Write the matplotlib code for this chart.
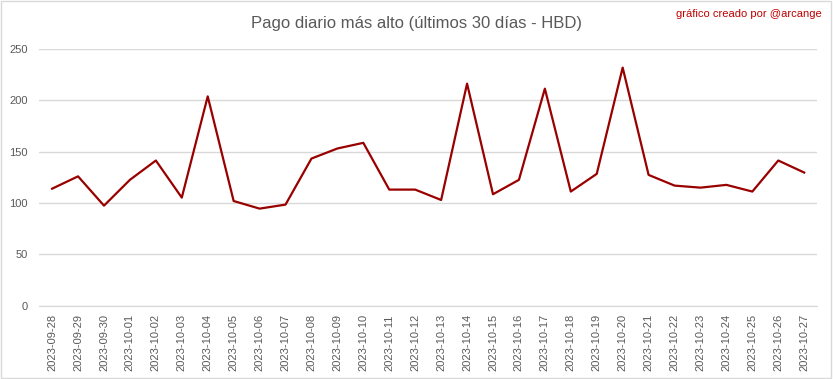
import matplotlib
matplotlib.use('Agg')
import matplotlib.pyplot as plt
from matplotlib.patches import Rectangle

# Data
dates = ['2023-09-28', '2023-09-29', '2023-09-30', '2023-10-01', '2023-10-02',
         '2023-10-03', '2023-10-04', '2023-10-05', '2023-10-06', '2023-10-07',
         '2023-10-08', '2023-10-09', '2023-10-10', '2023-10-11', '2023-10-12',
         '2023-10-13', '2023-10-14', '2023-10-15', '2023-10-16', '2023-10-17',
         '2023-10-18', '2023-10-19', '2023-10-20', '2023-10-21', '2023-10-22',
         '2023-10-23', '2023-10-24', '2023-10-25', '2023-10-26', '2023-10-27']
max_payout = [114, 126, 97.5, 122.6, 141.4, 105.3, 203.8, 102, 94.6, 98.5,
              143.3, 153.1, 158.6, 113.1, 113.1, 103, 216.2, 108.6, 122.6, 211.3,
              111.2, 128.4, 231.8, 127.4, 117, 115, 117.7, 111.2, 141.4, 129.7]
y_ticks = [0, 50, 100, 150, 200, 250]

plt.rcParams['font.family'] = ['Liberation Sans', 'DejaVu Sans']
gray = '#595959'
grid = '#D9D9D9'

fig = plt.figure(figsize=(8.33, 3.79), dpi=100)
ax = fig.add_axes([0.047, 0.193, 0.934, 0.678])

x = range(len(dates))
ax.plot(x, max_payout, color='#990000', linewidth=1.6)

ax.set_ylim(0, 250)
ax.set_xlim(-0.5, len(dates) - 0.5)
ax.set_yticks(y_ticks)
ax.set_xticks(list(x))
ax.set_xticklabels(dates, rotation=90)
ax.tick_params(axis='both', length=0, colors=gray, labelsize=8)
ax.tick_params(axis='x', pad=6)
ax.tick_params(axis='y', pad=8)
ax.grid(axis='y', color=grid, linewidth=1)
ax.set_axisbelow(True)
for s in ['top', 'right', 'left']:
    ax.spines[s].set_visible(False)
ax.spines['bottom'].set_color(grid)

fig.text(0.5, 0.937, 'Pago diario más alto (últimos 30 días - HBD)',
         ha='center', va='center', fontsize=12, color=gray)
fig.text(0.987, 0.962, 'gráfico creado por @arcange', ha='right', va='center',
         fontsize=8, color='#C00000')

# outer border of the chart
fig.patches.append(Rectangle((0.001, 0.002), 0.997, 0.995, transform=fig.transFigure,
                             fill=False, edgecolor=grid, linewidth=1))

fig.savefig('out.png', dpi=100)
